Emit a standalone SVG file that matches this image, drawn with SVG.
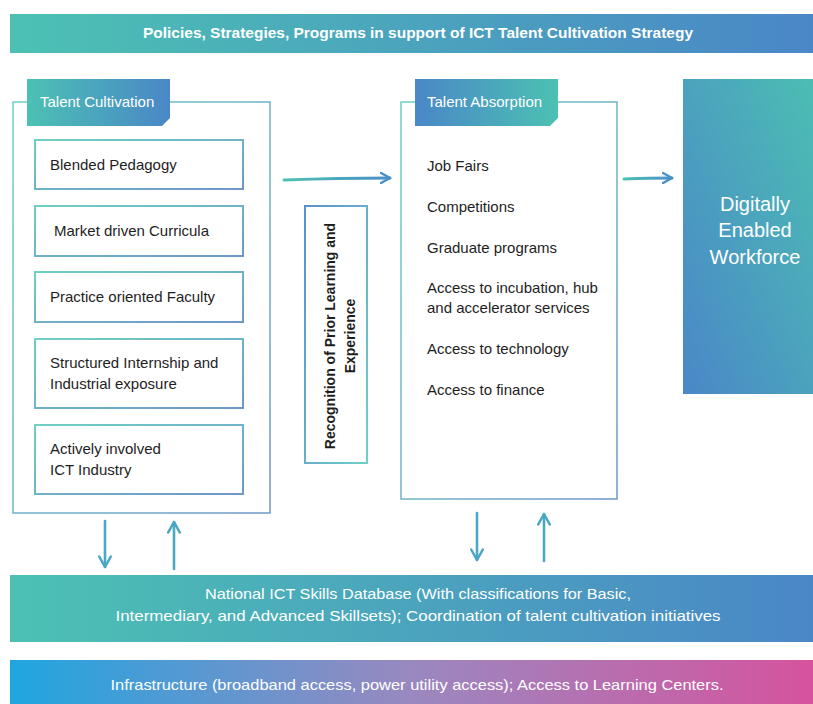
<svg xmlns="http://www.w3.org/2000/svg" width="813" height="704" viewBox="0 0 813 704">
  <defs>
    <linearGradient id="gTealBlue" x1="0" y1="0" x2="1" y2="0">
      <stop offset="0" stop-color="#4cc1b3"/>
      <stop offset="1" stop-color="#4a87c7"/>
    </linearGradient>
    <linearGradient id="gBlueTeal" x1="0" y1="0" x2="1" y2="0">
      <stop offset="0" stop-color="#4a87c7"/>
      <stop offset="1" stop-color="#4cc1b3"/>
    </linearGradient>
    <linearGradient id="gWork" x1="0" y1="1" x2="1" y2="0">
      <stop offset="0" stop-color="#4a87c8"/>
      <stop offset="1" stop-color="#4cbdb3"/>
    </linearGradient>
    <linearGradient id="gInfra" x1="0" y1="0" x2="1" y2="0">
      <stop offset="0" stop-color="#1fa6e0"/>
      <stop offset="0.5" stop-color="#9a88c0"/>
      <stop offset="1" stop-color="#d6539e"/>
    </linearGradient>
    <linearGradient id="gStroke" x1="0" y1="0" x2="1" y2="1">
      <stop offset="0" stop-color="#6fd0c4"/>
      <stop offset="1" stop-color="#6f96c8"/>
    </linearGradient>
    <linearGradient id="gStrokeB" x1="0" y1="0" x2="1" y2="1">
      <stop offset="0" stop-color="#5a8fd0"/>
      <stop offset="1" stop-color="#6fd0c4"/>
    </linearGradient>
    <linearGradient id="gArrowH" x1="0" y1="0" x2="1" y2="0">
      <stop offset="0" stop-color="#4cc1b3"/>
      <stop offset="1" stop-color="#4a8ec9"/>
    </linearGradient>
    <marker id="chev" viewBox="0 0 12 12" refX="10" refY="6" markerWidth="12" markerHeight="12" markerUnits="userSpaceOnUse" orient="auto">
      <path d="M1,1 L10,6 L1,11" fill="none" stroke="#4a90c8" stroke-width="2.4" stroke-linecap="round" stroke-linejoin="round"/>
    </marker>
    <marker id="chevV" viewBox="0 0 12 12" refX="10" refY="6" markerWidth="14" markerHeight="14" markerUnits="userSpaceOnUse" orient="auto">
      <path d="M1,1 L10,6 L1,11" fill="none" stroke="#4aa6c4" stroke-width="2.2" stroke-linecap="round" stroke-linejoin="round"/>
    </marker>
  </defs>
  <style>
    text { font-family: "Liberation Sans", "Open Sans", Arial, sans-serif; }
    .band { font-size: 15px; fill: #ffffff; }
    .bandB { font-size: 15px; font-weight: bold; fill: #ffffff; }
    .tab { font-size: 15px; fill: #ffffff; }
    .item { font-size: 15px; fill: #1e1e1e; }
    .frame { fill: #ffffff; stroke: url(#gStroke); stroke-width: 1.5; }
    .card { fill: #ffffff; stroke: url(#gStroke); stroke-width: 2; }
    .conn { fill: none; stroke: url(#gArrowH); stroke-width: 3; stroke-linecap: round; }
    .vconn { fill: none; stroke: #4aa9c2; stroke-width: 2.6; stroke-linecap: round; }
  </style>

  <!-- Policies banner -->
  <g id="policies">
    <rect x="10" y="14" width="803" height="39" fill="url(#gTealBlue)"/>
    <text class="bandB" x="418" y="38" text-anchor="middle" textLength="550" lengthAdjust="spacingAndGlyphs">Policies, Strategies, Programs in support of ICT Talent Cultivation Strategy</text>
  </g>

  <!-- Talent Cultivation -->
  <g id="talent-cultivation">
    <rect class="frame" x="13" y="102" width="257" height="411"/>
    <path d="M27,79 H170 V118 L162,126 H27 Z" fill="url(#gTealBlue)"/>
    <text class="tab" x="40" y="107">Talent Cultivation</text>
  </g>
  <g id="blended-pedagogy">
    <rect class="card" x="35" y="140" width="208" height="49"/>
    <text class="item" x="50" y="170">Blended Pedagogy</text>
  </g>
  <g id="market-curricula">
    <rect class="card" x="35" y="206" width="208" height="50"/>
    <text class="item" x="54" y="236">Market driven Curricula</text>
  </g>
  <g id="practice-faculty">
    <rect class="card" x="35" y="272" width="208" height="50"/>
    <text class="item" x="50" y="302">Practice oriented Faculty</text>
  </g>
  <g id="internship">
    <rect class="card" x="35" y="339" width="208" height="69"/>
    <text class="item" x="50" y="368">Structured Internship and</text>
    <text class="item" x="50" y="389">Industrial exposure</text>
  </g>
  <g id="ict-industry">
    <rect class="card" x="35" y="425" width="208" height="69"/>
    <text class="item" x="50" y="454">Actively involved</text>
    <text class="item" x="50" y="475">ICT Industry</text>
  </g>

  <!-- Recognition of prior learning -->
  <g id="recognition">
    <rect x="305" y="206" width="62" height="257" fill="#ffffff" stroke="url(#gStrokeB)" stroke-width="2"/>
    <text transform="translate(335,336) rotate(-90)" x="0" y="0" text-anchor="middle" font-size="14" font-weight="bold" fill="#1e1e1e">Recognition of Prior Learning and</text>
    <text transform="translate(355,336) rotate(-90)" x="0" y="0" text-anchor="middle" font-size="14" font-weight="bold" fill="#1e1e1e">Experience</text>
  </g>

  <!-- Talent Absorption -->
  <g id="talent-absorption">
    <rect class="frame" x="401" y="102" width="216" height="397"/>
    <path d="M415,79 H558 V118 L550,126 H415 Z" fill="url(#gBlueTeal)"/>
    <text class="tab" x="427" y="107">Talent Absorption</text>
    <text class="item" x="427" y="171">Job Fairs</text>
    <text class="item" x="427" y="212">Competitions</text>
    <text class="item" x="427" y="253">Graduate programs</text>
    <text class="item" x="427" y="293">Access to incubation, hub</text>
    <text class="item" x="427" y="313">and accelerator services</text>
    <text class="item" x="427" y="354">Access to technology</text>
    <text class="item" x="427" y="395">Access to finance</text>
  </g>

  <!-- Digitally Enabled Workforce -->
  <g id="workforce">
    <rect x="683" y="79" width="130" height="315" fill="url(#gWork)"/>
    <text x="755" y="211" text-anchor="middle" font-size="20" fill="#ffffff">Digitally</text>
    <text x="755" y="237" text-anchor="middle" font-size="20" fill="#ffffff">Enabled</text>
    <text x="755" y="264" text-anchor="middle" font-size="20" fill="#ffffff">Workforce</text>
  </g>

  <!-- National ICT Skills Database -->
  <g id="skills-database">
    <rect x="10" y="575" width="803" height="67" fill="url(#gTealBlue)"/>
    <text class="band" x="418" y="599" text-anchor="middle" textLength="426" lengthAdjust="spacingAndGlyphs">National ICT Skills Database (With classifications for Basic,</text>
    <text class="band" x="418" y="621" text-anchor="middle" textLength="605" lengthAdjust="spacingAndGlyphs">Intermediary, and Advanced Skillsets); Coordination of talent cultivation initiatives</text>
  </g>

  <!-- Infrastructure -->
  <g id="infrastructure">
    <rect x="10" y="660" width="803" height="44" fill="url(#gInfra)"/>
    <text class="band" x="417" y="690" text-anchor="middle" textLength="613" lengthAdjust="spacingAndGlyphs">Infrastructure (broadband access, power utility access); Access to Learning Centers.</text>
  </g>

  <!-- Connectors -->
  <g id="connectors">
    <path class="conn" d="M284,180 Q340,178 390,178" marker-end="url(#chev)"/>
    <path class="conn" d="M624,179 Q650,178 672,178" marker-end="url(#chev)"/>
    <path class="vconn" d="M105,521 L105,567" marker-end="url(#chevV)"/>
    <path class="vconn" d="M174,569 L174,522" marker-end="url(#chevV)"/>
    <path class="vconn" d="M477,513 L477,560" marker-end="url(#chevV)"/>
    <path class="vconn" d="M544,561 L544,514" marker-end="url(#chevV)"/>
  </g>
</svg>
